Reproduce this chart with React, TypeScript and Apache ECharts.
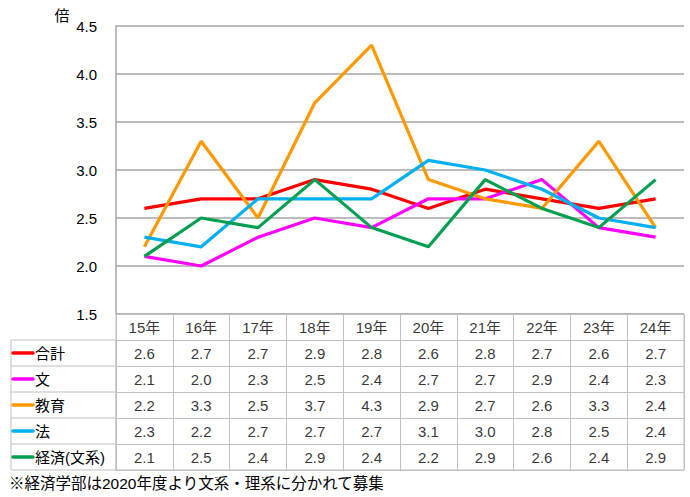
import React, { useEffect, useRef } from "react";
import * as echarts from "echarts";

const years = ["15年", "16年", "17年", "18年", "19年", "20年", "21年", "22年", "23年", "24年"];
const seriesNames = ["合計", "文", "教育", "法", "経済(文系)"];
const total = [2.6, 2.7, 2.7, 2.9, 2.8, 2.6, 2.8, 2.7, 2.6, 2.7];
const bun = [2.1, 2.0, 2.3, 2.5, 2.4, 2.7, 2.7, 2.9, 2.4, 2.3];
const kyoiku = [2.2, 3.3, 2.5, 3.7, 4.3, 2.9, 2.7, 2.6, 3.3, 2.4];
const hou = [2.3, 2.2, 2.7, 2.7, 2.7, 3.1, 3.0, 2.8, 2.5, 2.4];
const keizai = [2.1, 2.5, 2.4, 2.9, 2.4, 2.2, 2.9, 2.6, 2.4, 2.9];
const yTicks = [1.5, 2.0, 2.5, 3.0, 3.5, 4.0, 4.5];
const unitLabel = "倍";
const footnote = "※経済学部は2020年度より文系・理系に分かれて募集";

const seriesValues = [total, bun, kyoiku, hou, keizai];
const colors = ["#ff0000", "#ff00ff", "#ff9900", "#00b0f0", "#00a050"];

const FONT = "'Liberation Sans', 'Noto Sans CJK JP', sans-serif";

export default function App() {
  const ref = useRef<HTMLDivElement>(null);
  useEffect(() => {
    if (!ref.current) return;
    const chart = echarts.init(ref.current, null, { renderer: "svg" });

    const gridLeft = 116;
    const gridRight = 6;
    const plotTop = 26;
    const plotBottom = 314;
    const tableTop = 314;
    const rowH = 26;
    const nRows = seriesNames.length + 1;
    const tableH = rowH * nRows;
    const border = "#c0c0c0";

    const cellData: any[] = [];
    years.forEach((y, c) => cellData.push({ value: [c, 0], text: y }));
    seriesValues.forEach((arr, r) => {
      arr.forEach((v, c) => cellData.push({ value: [c, r + 1], text: v.toFixed(1) }));
    });

    const graphics: any[] = [];
    const leftX = 11;
    const firstRowTop = tableTop + rowH;
    graphics.push({
      type: "rect",
      shape: { x: leftX, y: firstRowTop, width: gridLeft - leftX, height: rowH * seriesNames.length },
      style: { fill: "none", stroke: border, lineWidth: 1 },
      silent: true,
    });
    seriesNames.forEach((name, i) => {
      const cy = firstRowTop + rowH * i + rowH / 2;
      if (i > 0) {
        graphics.push({
          type: "line",
          shape: { x1: leftX, y1: firstRowTop + rowH * i, x2: gridLeft, y2: firstRowTop + rowH * i },
          style: { stroke: border, lineWidth: 1 },
        });
      }
      graphics.push({
        type: "line",
        shape: { x1: 13, y1: cy, x2: 33, y2: cy },
        style: { stroke: colors[i], lineWidth: 3.5, lineCap: "round" },
      });
      graphics.push({
        type: "text",
        x: 35,
        y: cy,
        style: { text: name, fill: "#000", font: `15px ${FONT}`, textVerticalAlign: "middle", textAlign: "left" },
      });
    });
    graphics.push({
      type: "text",
      x: 62,
      y: 15,
      style: { text: unitLabel, fill: "#000", font: `15px ${FONT}`, textAlign: "center", textVerticalAlign: "middle" },
    });
    graphics.push({
      type: "text",
      x: 9,
      y: 483,
      style: { text: footnote, fill: "#000", font: `15.5px ${FONT}`, textAlign: "left", textVerticalAlign: "middle" },
    });

    chart.setOption({
      animation: false,
      backgroundColor: "#ffffff",
      textStyle: { fontFamily: FONT },
      grid: [
        { left: gridLeft, right: gridRight, top: plotTop, height: plotBottom - plotTop },
        {
          left: gridLeft,
          right: gridRight,
          top: tableTop,
          height: tableH,
          show: true,
          borderColor: border,
          borderWidth: 1,
        },
      ],
      xAxis: [
        {
          type: "category",
          gridIndex: 0,
          data: years,
          boundaryGap: true,
          axisLine: { show: false },
          axisTick: { show: false },
          axisLabel: { show: false },
          splitLine: { show: false },
        },
        {
          type: "category",
          gridIndex: 1,
          data: years,
          boundaryGap: true,
          axisLine: { show: false },
          axisTick: { show: false },
          axisLabel: { show: false },
          splitLine: { show: true, interval: 0, lineStyle: { color: border, width: 1 } },
        },
      ],
      yAxis: [
        {
          type: "value",
          gridIndex: 0,
          min: yTicks[0],
          max: yTicks[yTicks.length - 1],
          interval: 0.5,
          axisLine: { show: true, lineStyle: { color: "#a6a6a6", width: 1.5 } },
          axisTick: { show: false },
          axisLabel: {
            color: "#000",
            fontSize: 15,
            margin: 19,
            fontFamily: FONT,
            formatter: (v: number) => v.toFixed(1),
          },
          splitLine: { show: true, lineStyle: { color: "#a6a6a6", width: 1.5 } },
        },
        {
          type: "category",
          gridIndex: 1,
          inverse: true,
          data: ["", ...seriesNames],
          boundaryGap: true,
          axisLine: { show: false },
          axisTick: { show: false },
          axisLabel: { show: false },
          splitLine: { show: true, interval: 0, lineStyle: { color: border, width: 1 } },
        },
      ],
      series: [
        ...seriesNames.map((name, i) => ({
          name,
          type: "line",
          xAxisIndex: 0,
          yAxisIndex: 0,
          data: seriesValues[i],
          symbol: "none",
          lineStyle: { color: colors[i], width: 3.2 },
          itemStyle: { color: colors[i] },
          z: 3 + i,
        })),
        {
          type: "scatter",
          xAxisIndex: 1,
          yAxisIndex: 1,
          symbol: "rect",
          symbolSize: 1,
          itemStyle: { color: "rgba(0,0,0,0)" },
          silent: true,
          data: cellData,
          label: {
            show: true,
            position: "inside",
            color: "#000",
            fontSize: 15,
            fontFamily: FONT,
            formatter: (p: any) => p.data.text,
          },
        },
      ],
      graphic: graphics,
    });
    return () => chart.dispose();
  }, []);
  return (
    <div
      ref={ref}
      style={{ position: "fixed", left: 0, top: 0, width: 690, height: 497, background: "#fff" }}
    />
  );
}
